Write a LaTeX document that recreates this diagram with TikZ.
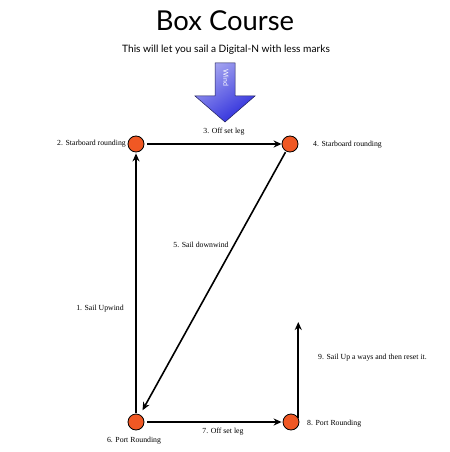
\documentclass[tikz,border=0pt]{standalone}
\usepackage{fontspec}
\setmainfont{Liberation Serif}
\newfontfamily\titlefont{Lato}
\usetikzlibrary{arrows.meta}
\definecolor{markfill}{RGB}{240,88,36}
\definecolor{windlight}{RGB}{165,165,240}
\definecolor{winddark}{RGB}{45,45,220}
\definecolor{windedge}{RGB}{30,30,90}
\tikzset{
  buoy/.style={circle, draw=black, line width=0.8bp, fill=markfill, minimum size=16bp, inner sep=0pt},
  leg/.style={draw=black, line width=1.6bp, -{Stealth[length=8bp,width=7bp]}},
  lbl/.style={font=\fontsize{7.8}{9}\selectfont, inner sep=0pt}
}
\begin{document}
\begin{tikzpicture}[x=1bp,y=-1bp]
\useasboundingbox[fill=white] (0,0) rectangle (450,452);
% title
\node[font=\titlefont\fontsize{27.5}{32}\selectfont, inner sep=0pt] (title) at (225,21) {Box Course};
\node[font=\titlefont\fontsize{10.2}{12}\selectfont, inner sep=0pt] (sub) at (226,50) {This will let you sail a Digital-N with less marks};
% wind arrow
\shade[top color=windlight, bottom color=winddark, shading angle=35, draw=windedge, line width=0.5bp]
  (215,63) -- (235,63) -- (235,96) -- (255,96) -- (225,122) -- (195,96) -- (215,96) -- cycle;
\node[rotate=-90, text=white, font=\titlefont\fontsize{7}{8}\selectfont, inner sep=0pt] (wind) at (226,78) {Wind};
% marks
\node[buoy] (c2) at (136,144) {};
\node[buoy] (c4) at (290,144) {};
\node[buoy] (c6) at (136,422) {};
\node[buoy] (c8) at (291,422) {};
\coordinate (t9) at (300,322);
% legs
\draw[leg, shorten <=1bp, shorten >=1bp] (c6) -- (c2);
\draw[leg, shorten <=3bp] (c2) -- (c4);
\draw[leg, shorten <=1bp, shorten >=5bp] (c4) -- (c6);
\draw[leg, shorten <=3bp, shorten >=1bp] (c6) -- (c8);
\draw[leg] (c8.30) -- (c8.30 |- t9);
% labels
\node[lbl, anchor=east] (l2) at (126,144) {2. Starboard rounding};
\node[lbl, anchor=west] (l4) at (313,145) {4. Starboard rounding};
\node[lbl] (l3) at (224,132) {3. Off set leg};
\node[lbl] (l1) at (100,309) {1. Sail Upwind};
\node[lbl] (l5) at (201,245) {5. Sail downwind};
\node[lbl] (l6) at (134,441) {6. Port Rounding};
\node[lbl] (l7) at (223,432) {7. Off set leg};
\node[lbl, anchor=west] (l8) at (307,424) {8. Port Rounding};
\node[lbl, anchor=west] (l9) at (318,358) {9. Sail Up a ways and then reset it.};
\end{tikzpicture}
\end{document}
